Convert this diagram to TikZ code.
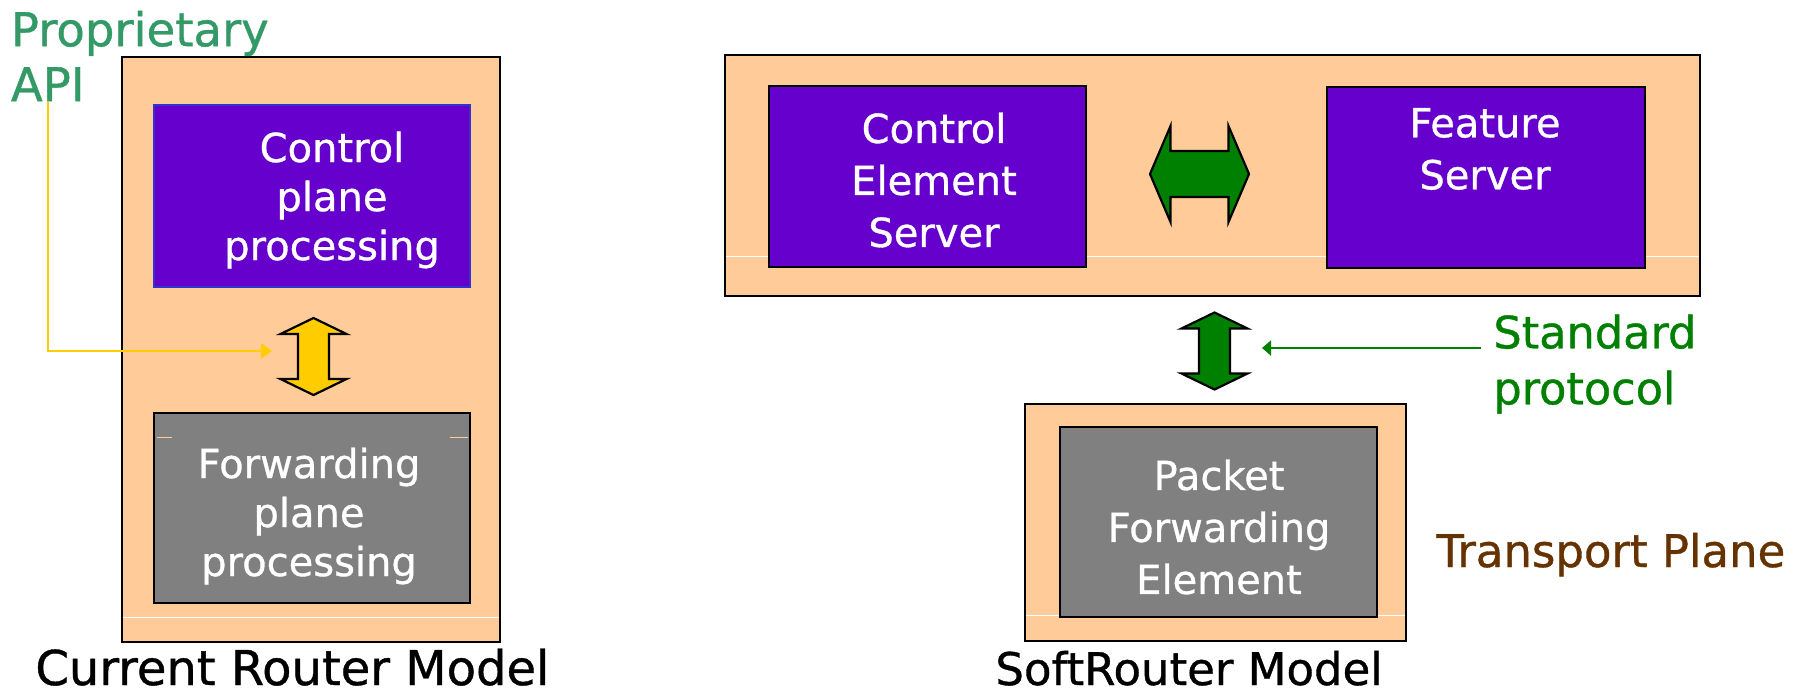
\documentclass[tikz,border=0pt]{standalone}
\usepackage{fontspec}
\setmainfont{DejaVu Sans}[BoldFont={DejaVu Sans}, BoldFeatures={FakeBold=0.8}]
\usetikzlibrary{arrows.meta,fit}

\definecolor{peach}{HTML}{FFCC99}
\definecolor{cpurple}{HTML}{6600CC}
\definecolor{cgrey}{HTML}{808080}
\definecolor{cyellow}{HTML}{FFCC00}
\definecolor{cgreen}{HTML}{008000}
\definecolor{apigreen}{HTML}{339966}
\definecolor{cbrown}{HTML}{663300}
\definecolor{cedge}{HTML}{3333CC}

\begin{document}
\begin{tikzpicture}[x=0.5pt,y=-0.5pt,
  panel/.style={draw=black, fill=peach, line width=1.1pt, inner sep=0pt},
  purplebox/.style={draw=black, fill=cpurple, line width=1.1pt, inner sep=0pt},
  greybox/.style={draw=black, fill=cgrey, line width=1.1pt, inner sep=0pt},
  wtext/.style={text=white, align=center, inner sep=0pt, font=\fontsize{20}{26}\selectfont\bfseries},
  ltext/.style={wtext, font=\fontsize{20}{24.5}\selectfont\bfseries},
  caption/.style={inner sep=0pt},
  seam/.style={white, line width=0.5pt},
  yline/.style={cyellow, line width=1pt, -{Triangle[length=5.5pt,width=7.5pt]}},
  gline/.style={cgreen, line width=1pt, -{Triangle[length=4.5pt,width=7.5pt]}},
  vdbl/.pic={\path[pic actions] (0,-38.5) -- (33,-22.5) -- (15.5,-22.5) -- (15.5,22.5)
     -- (33,22.5) -- (0,38.5) -- (-33,22.5) -- (-15.5,22.5) -- (-15.5,-22.5)
     -- (-33,-22.5) -- cycle;},
  hdbl/.pic={\path[pic actions] (-49.5,0) -- (-29,-48) -- (-29,-23) -- (29,-23)
     -- (29,-48) -- (49.5,0) -- (29,48) -- (29,23) -- (-29,23) -- (-29,48) -- cycle;}
]
\useasboundingbox (0,0) rectangle (1798,693);

% ---- current router model ----
\node[panel, fit={(122,57) (500,642)}] (router) {};
\draw[seam] (123,617.5) -- (499,617.5);
\node[draw=cedge, fill=cpurple, line width=0.6pt, inner sep=0pt, fit={(154,105) (470,287)}] (cpbox) {};
\node[greybox, fit={(154,413) (470,603)}] (fpbox) {};
\draw[peach, line width=0.5pt] (157,437.5) -- (172,437.5) (450,437.5) -- (468,437.5);
\node[ltext] (cptext) at (332,200) {Control\\plane\\processing};
\node[ltext] (fptext) at (309,516) {Forwarding\\plane\\processing};
\pic[fill=cyellow, draw=black, line width=1.1pt] at (313.5,356.5) {vdbl};

\node[caption, anchor=west, align=left, text=apigreen,
      font=\fontsize{23.3}{27.5}\selectfont\bfseries] (api) at (10.5,56) {Proprietary\\API};
\coordinate (apiturn) at (48,351);
\coordinate (apitip) at (272,351);
\draw[yline] (apiturn |- api.south) |- (apitip);

\node[caption, anchor=base west, font=\fontsize{24}{28}\selectfont\bfseries] (crm) at (35,685) {Current Router Model};

% ---- softrouter model ----
\node[panel, fit={(725,55) (1700,296)}] (ctrlplane) {};
\draw[seam] (726,256) -- (1699,256);
\node[purplebox, fit={(769,86) (1086,267)}] (ces) {};
\node[purplebox, fit={(1327,87) (1645,268)}] (fs) {};
\node[wtext] (cestext) at (934,180) {Control\\Element\\Server};
\node[wtext] (fstext) at (1485,149) {Feature\\Server};
\pic[fill=cgreen, draw=black, line width=1.1pt] at (1199.5,174) {hdbl};

\node[panel, fit={(1025,404) (1406,641)}] (tplane) {};
\draw[seam] (1026,615) -- (1405,615);
\node[greybox, fit={(1060,427) (1377,617)}] (pfe) {};
\node[wtext] (pfetext) at (1219,527) {Packet\\Forwarding\\Element};
\pic[fill=cgreen, draw=black, line width=1.1pt] at (1214.5,351) {vdbl};

\node[caption, anchor=west, align=left, text=cgreen,
      font=\fontsize{22.3}{28}\selectfont\bfseries] (std) at (1493,364) {Standard\\protocol};
\coordinate (stdstart) at (1481,348);
\coordinate (stdtip) at (1262,348);
\draw[gline] (stdstart) -- (stdtip);

\node[caption, anchor=base west, text=cbrown, font=\fontsize{22.5}{26}\selectfont\bfseries] (tp) at (1436,567) {Transport Plane};
\node[caption, anchor=base west, font=\fontsize{22.5}{26}\selectfont\bfseries] (srm) at (995,685) {SoftRouter Model};
\end{tikzpicture}
\end{document}
